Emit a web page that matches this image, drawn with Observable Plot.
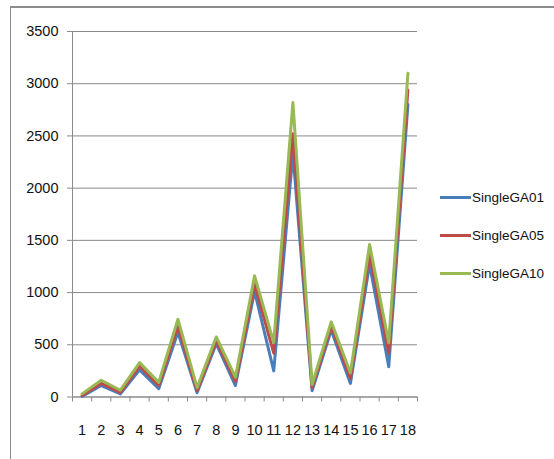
<!DOCTYPE html>
<html>
<head>
<meta charset="utf-8">
<script src="https://cdn.jsdelivr.net/npm/d3@7"></script>
<script src="https://cdn.jsdelivr.net/npm/@observablehq/plot@0.6"></script>
<style>
  html, body { margin: 0; padding: 0; background: #fff; }
  #chart { position: relative; width: 554px; height: 459px; overflow: hidden; font-family: "Liberation Sans", Arial, sans-serif; }
  #frame { position: absolute; left: 10px; top: 6px; width: 560px; height: 470px; border-top: 2px solid #8c8c8c; border-left: 1.5px solid #8c8c8c; box-sizing: border-box; pointer-events: none; }
  #legend { position: absolute; left: 440px; top: 178.5px; }
  .item { display: flex; align-items: center; height: 38.2px; font-size: 13.5px; color: #111; }
  .swatch { width: 31px; height: 3px; margin-right: 1px; }
</style>
</head>
<body>
<div id="chart"><div id="frame"></div></div>
<script>
// Problem instances on the x axis
const categories = [1, 2, 3, 4, 5, 6, 7, 8, 9, 10, 11, 12, 13, 14, 15, 16, 17, 18];

// Series values, one per instance
const seriesNames = ["SingleGA01", "SingleGA05", "SingleGA10"];
const singleGA01 = [5, 110, 30, 260, 80, 620, 40, 510, 110, 1010, 250, 2330, 60, 640, 130, 1270, 290, 2800];
const singleGA05 = [15, 130, 45, 295, 110, 680, 60, 540, 150, 1080, 420, 2520, 90, 680, 180, 1370, 420, 2940];
const singleGA10 = [30, 160, 65, 330, 140, 745, 90, 575, 190, 1160, 520, 2820, 120, 720, 230, 1460, 520, 3100];

// Axis ticks
const yTicks = [0, 500, 1000, 1500, 2000, 2500, 3000, 3500];

const seriesColors = ["#4a7ebb", "#be4b48", "#98b954"];
const seriesValues = [singleGA01, singleGA05, singleGA10];

// Long-format table for the line marks
const rows = [];
seriesNames.forEach((name, s) => {
  categories.forEach((c, i) => rows.push({series: name, cat: c, value: seriesValues[s][i]}));
});

// Category boundaries carry the small tick marks
const boundaries = d3.range(categories.length + 1).map(i => i + 0.5);

const font = "Liberation Sans, Arial, sans-serif";

const chart = Plot.plot({
  width: 554,
  height: 459,
  marginLeft: 72,
  marginRight: 137,
  marginTop: 31,
  marginBottom: 62.5,
  style: {fontFamily: font, fontSize: "14.5px", color: "#111", background: "transparent"},
  x: {domain: [0.5, categories.length + 0.5]},
  y: {domain: [0, 3500]},
  color: {domain: seriesNames, range: seriesColors},
  marks: [
    Plot.gridY(yTicks, {stroke: "#8a8a8a", strokeOpacity: 1, strokeWidth: 1}),
    Plot.ruleX([0.5], {stroke: "#8a8a8a", strokeWidth: 1}),
    Plot.ruleY([0], {stroke: "#8a8a8a", strokeWidth: 1}),
    Plot.axisY(yTicks, {tickSize: 5, tickPadding: 9, stroke: "#8a8a8a", fontSize: 14.5, label: null, tickFormat: d => String(d)}),
    Plot.axisX(boundaries, {tickSize: 5, stroke: "#8a8a8a", tickFormat: () => "", label: null}),
    Plot.axisX(categories, {tickSize: 0, tickPadding: 28, fontSize: 14.5, label: null, tickFormat: d => String(d)}),
    Plot.line(rows, {x: "cat", y: "value", z: "series", stroke: "series", strokeWidth: 3})
  ]
});

document.getElementById("chart").prepend(chart);

// Legend to the right of the plot
const legend = document.createElement("div");
legend.id = "legend";
seriesNames.forEach((name, i) => {
  const item = document.createElement("div");
  item.className = "item";
  const sw = document.createElement("div");
  sw.className = "swatch";
  sw.style.background = seriesColors[i];
  const label = document.createElement("span");
  label.textContent = name;
  item.append(sw, label);
  legend.append(item);
});
document.getElementById("chart").append(legend);
</script>
</body>
</html>
